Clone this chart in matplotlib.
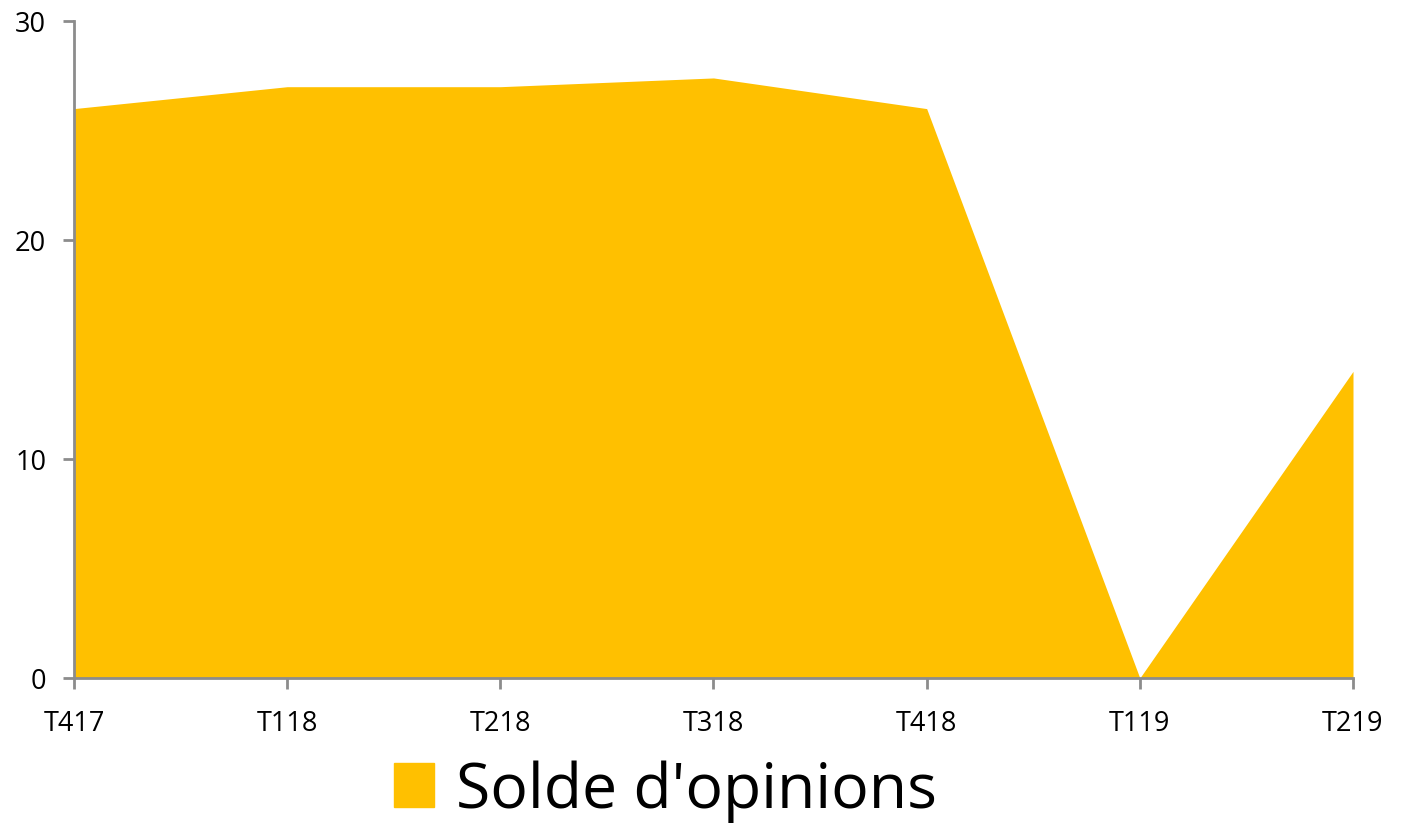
import matplotlib
matplotlib.use("Agg")
import matplotlib.pyplot as plt
from matplotlib.patches import Patch

categories = ["T417", "T118", "T218", "T318", "T418", "T119", "T219"]
solde = [26.0, 27.0, 27.0, 27.4, 26.0, 0.0, 14.0]
series_name = "Solde d'opinions"
yticks = [0, 10, 20, 30]

plt.rcParams['font.family'] = ['Open Sans', 'DejaVu Sans']

fig = plt.figure(figsize=(14.04, 8.29), dpi=100)
ax = fig.add_axes([74/1404, 150/829, (1353-74)/1404, (679-22)/829])
x = list(range(len(categories)))
ax.fill_between(x, solde, 0, color="#FFC000", linewidth=0)
ax.set_xlim(0, len(categories) - 1)
ax.set_ylim(0, 30)
ax.set_xticks(x)
ax.set_xticklabels(categories)
ax.set_yticks(yticks)
gray = "#8C8C8C"
for s in ["top", "right"]:
    ax.spines[s].set_visible(False)
for s in ["left", "bottom"]:
    ax.spines[s].set_color(gray)
    ax.spines[s].set_linewidth(2)
ax.tick_params(axis="both", colors=gray, width=2, length=8, labelcolor="black", labelsize=19.5)
ax.tick_params(axis="x", pad=14)
ax.tick_params(axis="y", pad=12)

handles = [Patch(color="#FFC000", label=series_name)]
fig.legend(handles=handles, loc="center", bbox_to_anchor=(0.474, 0.045), frameon=False,
           fontsize=45, handlelength=0.65, handleheight=0.7, handletextpad=0.35)
fig.savefig("out.png", dpi=100)
